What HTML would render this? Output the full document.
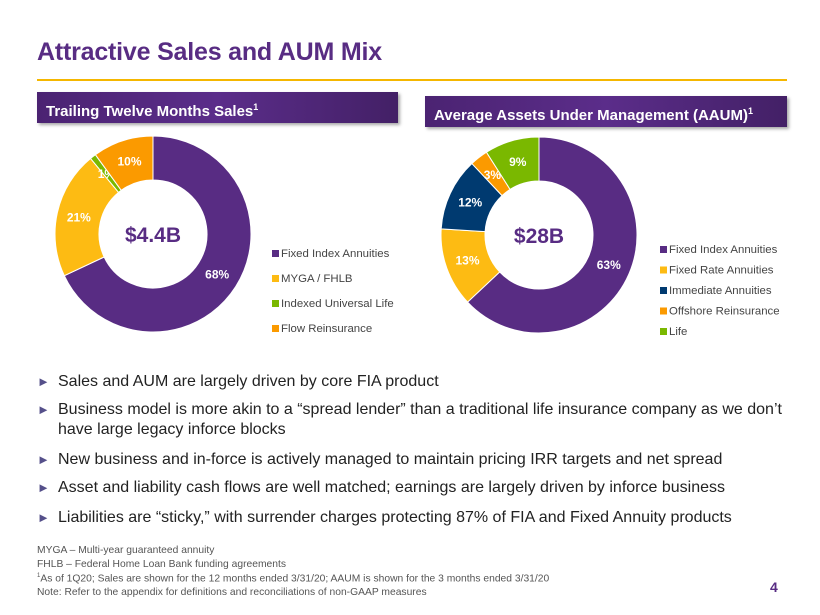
<!DOCTYPE html>
<html><head><meta charset="utf-8">
<style>
body{margin:0;width:820px;height:615px;overflow:hidden;background:#fff;font-family:"Liberation Sans",Arial,sans-serif;position:relative}
.abs{position:absolute}
.title{left:37px;top:38px;font-size:25px;font-weight:bold;color:#582c83;letter-spacing:-0.2px}
.rule{left:37px;top:79px;width:750px;height:2px;background:#f5b700}
.hdr{height:31px;background:linear-gradient(90deg,#4b2372,#5b2d8a 50%,#432066);color:#fff;font-weight:bold;font-size:15px;line-height:31px;box-shadow:2px 2px 3px rgba(0,0,0,.35);padding-left:9px;box-sizing:border-box}
.hdr sup{font-size:9px}
.bul{left:37px;font-size:16px;color:#222;width:760px;line-height:20px}
.bul span.a{color:#55508a;font-size:13px;position:absolute;left:0;top:0}
.bul div{padding-left:21px}
.fn{left:37px;font-size:10.3px;color:#555}
</style></head><body>
<div class="abs title">Attractive Sales and AUM Mix</div>
<div class="abs rule"></div>
<div class="abs hdr" style="left:37px;top:92px;width:361px">Trailing Twelve Months Sales<sup>1</sup></div>
<div class="abs hdr" style="left:425px;top:96px;width:362px">Average Assets Under Management (AAUM)<sup>1</sup></div>
<svg class="abs" style="left:0;top:0" width="820" height="370" id="charts"></svg>
<div class="abs bul" style="top:372px"><span class="a">►</span><div>Sales and AUM are largely driven by core FIA product</div></div>
<div class="abs bul" style="top:400px"><span class="a">►</span><div>Business model is more akin to a “spread lender” than a traditional life insurance company as we don’t have large legacy inforce blocks</div></div>
<div class="abs bul" style="top:450px"><span class="a">►</span><div>New business and in-force is actively managed to maintain pricing IRR targets and net spread</div></div>
<div class="abs bul" style="top:478px"><span class="a">►</span><div>Asset and liability cash flows are well matched; earnings are largely driven by inforce business</div></div>
<div class="abs bul" style="top:508px"><span class="a">►</span><div>Liabilities are “sticky,” with surrender charges protecting 87% of FIA and Fixed Annuity products</div></div>
<div class="abs fn" style="top:545px">MYGA – Multi-year guaranteed annuity</div>
<div class="abs fn" style="top:559px">FHLB – Federal Home Loan Bank funding agreements</div>
<div class="abs fn" style="top:573px"><sup style="font-size:6px">1</sup>As of 1Q20; Sales are shown for the 12 months ended 3/31/20; AAUM is shown for the 3 months ended 3/31/20</div>
<div class="abs fn" style="top:587px">Note: Refer to the appendix for definitions and reconciliations of non-GAAP measures</div>
<div class="abs" style="left:770px;top:579px;font-size:14px;font-weight:bold;color:#582c83">4</div>
<script>
const salesCats=["Fixed Index Annuities","MYGA / FHLB","Indexed Universal Life","Flow Reinsurance"];
const salesVals=[68,21,1,10];
const salesColors=["#582c83","#fdbb13","#7ab800","#fb9a00"];
const aumCats=["Fixed Index Annuities","Fixed Rate Annuities","Immediate Annuities","Offshore Reinsurance","Life"];
const aumVals=[63,13,12,3,9];
const aumColors=["#582c83","#fdbb13","#003a70","#fb9a00","#7ab800"];
const NS="http://www.w3.org/2000/svg";
const svg=document.getElementById('charts');
function mk(t,a){const e=document.createElementNS(NS,t);for(const k in a)e.setAttribute(k,a[k]);svg.appendChild(e);return e;}
function donut(cx,cy,R,r,vals,cols,cats,total,lx,ly,lgap,name){
  const sum=vals.reduce((a,b)=>a+b,0);let a0=0;
  vals.forEach((v,i)=>{
    const a1=a0+v/sum*2*Math.PI;
    const p=(ang,rad)=>[cx+rad*Math.sin(ang),cy-rad*Math.cos(ang)];
    const [x1,y1]=p(a0,R),[x2,y2]=p(a1,R),[x3,y3]=p(a1,r),[x4,y4]=p(a0,r);
    const lg=(a1-a0)>Math.PI?1:0;
    const path=mk('path',{d:`M${x1},${y1}A${R},${R} 0 ${lg} 1 ${x2},${y2}L${x3},${y3}A${r},${r} 0 ${lg} 0 ${x4},${y4}Z`,fill:cols[i],stroke:'#fff','stroke-width':1});
    
    
    const m=(a0+a1)/2,[tx,ty]=p(m,(R+r)/2);
    const t=mk('text',{x:tx,y:ty+4,'text-anchor':'middle','font-size':12,'font-weight':'bold',fill:'#fff'});
    t.textContent=v+'%';
    
    
    const sq=mk('rect',{x:lx,y:ly+i*lgap-7,width:7,height:7,fill:cols[i]});
    
    
    const lt=mk('text',{x:lx+9,y:ly+i*lgap,'font-size':11.4,fill:'#444'});
    lt.textContent=cats[i];
    
    
    a0=a1;
  });
  const c=mk('text',{x:cx,y:cy+8,'text-anchor':'middle','font-size':21,'font-weight':'bold',fill:'#582c83'});
  c.textContent=total;
  
  
}
donut(153,234,98,54,salesVals,salesColors,salesCats,"$4.4B",272,257,25,'sales');
donut(539,235,98,54,aumVals,aumColors,aumCats,"$28B",660,253,20.5,'aum');
</script>
</body></html>
